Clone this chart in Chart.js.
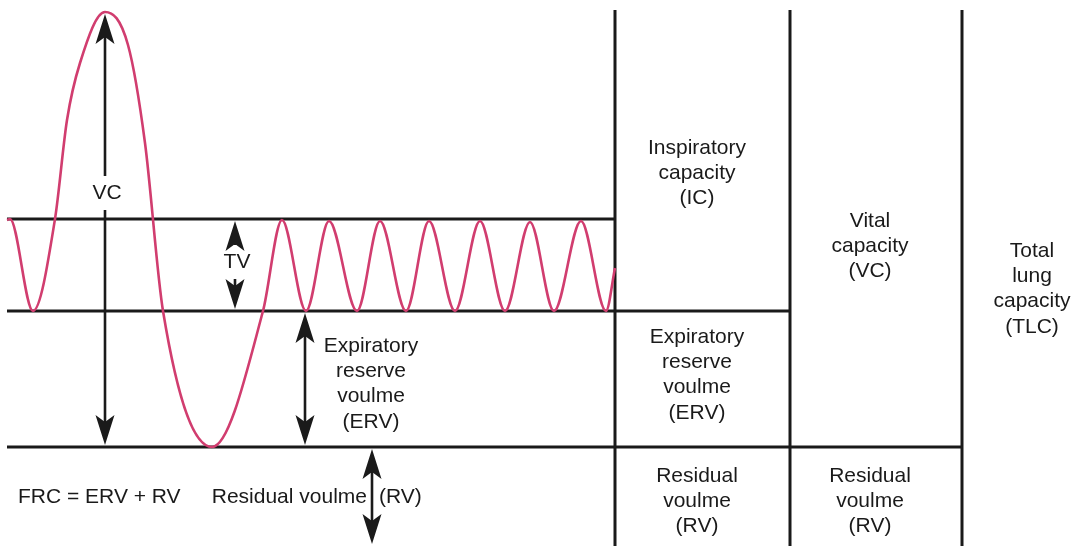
<!DOCTYPE html>
<html>
<head>
<meta charset="utf-8">
<script src="https://cdn.jsdelivr.net/npm/chart.js@4.4.1/dist/chart.umd.min.js"></script>
<style>
  html, body { margin: 0; padding: 0; background: #fff; }
  #wrap { width: 1074px; height: 546px; }
</style>
</head>
<body>
<div id="wrap"><canvas id="lungChart" width="1074" height="546"></canvas></div>
<script>
// spirogram trace: x = time, y = lung volume (arbitrary units)
const breathTime = [7, 10, 33, 55, 67, 80, 105, 128, 145, 163, 212, 263, 282, 306, 329, 357, 380, 406, 429, 455, 480, 505, 530, 554, 581, 606, 615];
const breathVolume = [326, 327, 235, 327, 426, 483, 534, 501, 403, 235, 99, 235, 326, 235, 325, 235, 325, 235, 325, 235, 325, 235, 324, 235, 325, 235, 278];

// volume levels
const levelNames = ['RV', 'FRC', 'Tidal top', 'TLC'];
const levelValues = [99, 235, 327, 534];
const boxTop = 536;

// horizontal reference lines (level, end time) and column dividers
const hLineLevel = [327, 235, 99];
const hLineEnd = [615, 790, 962];
const lineStart = 7;
const dividerTime = [615, 790, 962];

// double-headed arrows
const arrowTime = [105, 235, 305, 372];
const arrowBottom = [99, 235, 99, 0];
const arrowTop = [534, 327, 235, 99];
const arrowLabel = ['VC', 'TV', null, null];
const arrowLabelAt = [353, 284, null, null];

// text blocks
const blockLines = [
  ['Expiratory', 'reserve', 'voulme', '(ERV)'],
  ['Inspiratory', 'capacity', '(IC)'],
  ['Expiratory', 'reserve', 'voulme', '(ERV)'],
  ['Residual', 'voulme', '(RV)'],
  ['Vital', 'capacity', '(VC)'],
  ['Residual', 'voulme', '(RV)'],
  ['Total', 'lung', 'capacity', '(TLC)']
];
const blockTime = [371, 697, 697, 697, 870, 870, 1032];
const blockVolume = [200, 398, 209, 70, 325, 70, 295];

const ink = '#1a1a1a';
const trace = '#d13d6f';
const font = '21px "Liberation Sans", Arial, sans-serif';
const lineGap = 25.3;

const datasets = [];
datasets.push({
  label: 'Volume',
  data: breathTime.map((t, i) => ({ x: t, y: breathVolume[i] })),
  borderColor: trace,
  borderWidth: 2.6,
  cubicInterpolationMode: 'monotone',
  pointRadius: 0,
  fill: false
});
hLineLevel.forEach((v, i) => {
  datasets.push({
    data: [{ x: lineStart, y: v }, { x: hLineEnd[i], y: v }],
    borderColor: ink, borderWidth: 3, pointRadius: 0
  });
});
dividerTime.forEach(t => {
  datasets.push({
    data: [{ x: t, y: boxTop }, { x: t, y: 0 }],
    borderColor: ink, borderWidth: 3, pointRadius: 0
  });
});

function arrowHead(ctx, x, tipY, dir) {
  // dir = 1 points up, -1 points down
  const len = 30, half = 9.5, notch = 23;
  ctx.beginPath();
  ctx.moveTo(x, tipY);
  ctx.lineTo(x - half, tipY + dir * len);
  ctx.lineTo(x, tipY + dir * notch);
  ctx.lineTo(x + half, tipY + dir * len);
  ctx.closePath();
  ctx.fill();
}

const annotations = {
  id: 'annotations',
  afterDatasetsDraw(chart) {
    const { ctx, scales: { x, y } } = chart;
    ctx.save();
    ctx.strokeStyle = ink;
    ctx.fillStyle = ink;
    ctx.lineWidth = 2.6;
    ctx.font = font;
    ctx.textAlign = 'center';
    ctx.textBaseline = 'middle';

    arrowTime.forEach((t, i) => {
      const px = x.getPixelForValue(t);
      const top = y.getPixelForValue(arrowTop[i]) + 2;
      const bottom = y.getPixelForValue(arrowBottom[i]) - 2;
      const segs = [];
      if (arrowLabel[i]) {
        const ly = y.getPixelForValue(arrowLabelAt[i]);
        segs.push([top + 20, ly - 17], [ly + 17, bottom - 20]);
        ctx.fillText(arrowLabel[i], px + 2, ly);
      } else {
        segs.push([top + 20, bottom - 20]);
      }
      segs.forEach(([a, b]) => {
        if (b > a) {
          ctx.beginPath();
          ctx.moveTo(px, a);
          ctx.lineTo(px, b);
          ctx.stroke();
        }
      });
      arrowHead(ctx, px, top, 1);
      arrowHead(ctx, px, bottom, -1);
    });

    blockLines.forEach((lines, i) => {
      const px = x.getPixelForValue(blockTime[i]);
      const py = y.getPixelForValue(blockVolume[i]);
      lines.forEach((s, j) => ctx.fillText(s, px, py + j * lineGap));
    });

    const rowY = y.getPixelForValue(49);
    ctx.textAlign = 'left';
    ctx.fillText('FRC = ERV + RV', x.getPixelForValue(18), rowY);
    ctx.fillText('(RV)', x.getPixelForValue(379), rowY);
    ctx.textAlign = 'right';
    ctx.fillText('Residual voulme', x.getPixelForValue(367), rowY);
    ctx.restore();
  }
};

new Chart(document.getElementById('lungChart').getContext('2d'), {
  type: 'line',
  data: { datasets: datasets },
  options: {
    responsive: false,
    animation: false,
    events: [],
    layout: { padding: 0 },
    plugins: {
      legend: { display: false },
      tooltip: { enabled: false }
    },
    scales: {
      x: { type: 'linear', min: 0, max: 1074, display: false },
      y: { type: 'linear', min: 0, max: 546, display: false }
    }
  },
  plugins: [annotations]
});
</script>
</body>
</html>
